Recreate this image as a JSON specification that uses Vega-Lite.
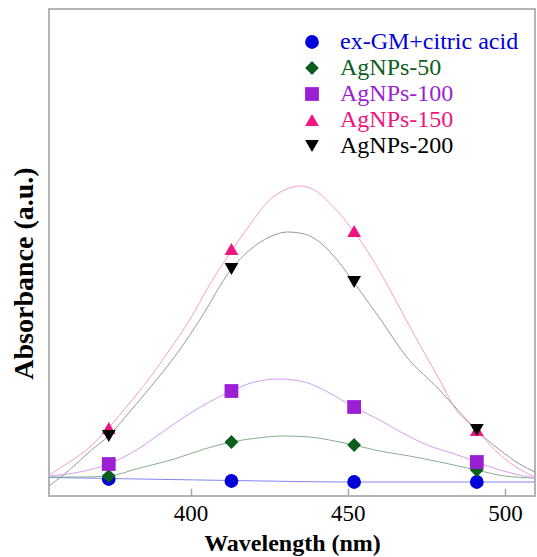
{
  "$schema": "https://vega.github.io/schema/vega-lite/v6.json",
  "autosize": "none",
  "width": 486,
  "height": 487,
  "padding": {"left": 49, "top": 9, "right": 2, "bottom": 61},
  "config": {
    "view": {"stroke": "#b4b4b4", "strokeWidth": 2},
    "font": "Liberation Serif"
  },
  "datasets": {
    "curves": [
      {"s": "ex-GM+citric acid", "wl": 355.0, "a": 0.185},
      {"s": "ex-GM+citric acid", "wl": 373.9, "a": 0.175},
      {"s": "ex-GM+citric acid", "wl": 413.0, "a": 0.155},
      {"s": "ex-GM+citric acid", "wl": 451.8, "a": 0.14},
      {"s": "ex-GM+citric acid", "wl": 490.9, "a": 0.14},
      {"s": "ex-GM+citric acid", "wl": 509.5, "a": 0.14},

      {"s": "AgNPs-50", "wl": 355.0, "a": 0.19},
      {"s": "AgNPs-50", "wl": 364.7, "a": 0.19},
      {"s": "AgNPs-50", "wl": 373.9, "a": 0.20},
      {"s": "AgNPs-50", "wl": 383.8, "a": 0.28},
      {"s": "AgNPs-50", "wl": 394.9, "a": 0.37},
      {"s": "AgNPs-50", "wl": 404.4, "a": 0.47},
      {"s": "AgNPs-50", "wl": 413.0, "a": 0.54},
      {"s": "AgNPs-50", "wl": 421.3, "a": 0.58},
      {"s": "AgNPs-50", "wl": 429.3, "a": 0.60},
      {"s": "AgNPs-50", "wl": 437.8, "a": 0.59},
      {"s": "AgNPs-50", "wl": 445.8, "a": 0.55},
      {"s": "AgNPs-50", "wl": 451.8, "a": 0.51},
      {"s": "AgNPs-50", "wl": 460.1, "a": 0.45},
      {"s": "AgNPs-50", "wl": 469.6, "a": 0.40},
      {"s": "AgNPs-50", "wl": 479.2, "a": 0.34},
      {"s": "AgNPs-50", "wl": 490.9, "a": 0.26},
      {"s": "AgNPs-50", "wl": 499.8, "a": 0.20},
      {"s": "AgNPs-50", "wl": 509.5, "a": 0.18},

      {"s": "AgNPs-100", "wl": 355.0, "a": 0.20},
      {"s": "AgNPs-100", "wl": 364.7, "a": 0.24},
      {"s": "AgNPs-100", "wl": 373.9, "a": 0.32},
      {"s": "AgNPs-100", "wl": 382.8, "a": 0.46},
      {"s": "AgNPs-100", "wl": 391.1, "a": 0.64},
      {"s": "AgNPs-100", "wl": 397.5, "a": 0.78},
      {"s": "AgNPs-100", "wl": 406.0, "a": 0.94},
      {"s": "AgNPs-100", "wl": 413.0, "a": 1.05},
      {"s": "AgNPs-100", "wl": 420.3, "a": 1.14},
      {"s": "AgNPs-100", "wl": 428.3, "a": 1.17},
      {"s": "AgNPs-100", "wl": 436.2, "a": 1.14},
      {"s": "AgNPs-100", "wl": 444.2, "a": 1.03},
      {"s": "AgNPs-100", "wl": 451.8, "a": 0.89},
      {"s": "AgNPs-100", "wl": 460.1, "a": 0.76},
      {"s": "AgNPs-100", "wl": 467.4, "a": 0.63},
      {"s": "AgNPs-100", "wl": 476.0, "a": 0.50},
      {"s": "AgNPs-100", "wl": 484.0, "a": 0.42},
      {"s": "AgNPs-100", "wl": 490.9, "a": 0.34},
      {"s": "AgNPs-100", "wl": 498.3, "a": 0.26},
      {"s": "AgNPs-100", "wl": 504.6, "a": 0.21},
      {"s": "AgNPs-100", "wl": 509.5, "a": 0.18},

      {"s": "AgNPs-150", "wl": 355.0, "a": 0.21},
      {"s": "AgNPs-150", "wl": 361.5, "a": 0.34},
      {"s": "AgNPs-150", "wl": 366.9, "a": 0.46},
      {"s": "AgNPs-150", "wl": 373.9, "a": 0.68},
      {"s": "AgNPs-150", "wl": 380.6, "a": 0.93},
      {"s": "AgNPs-150", "wl": 387.0, "a": 1.18},
      {"s": "AgNPs-150", "wl": 393.3, "a": 1.46},
      {"s": "AgNPs-150", "wl": 399.7, "a": 1.76},
      {"s": "AgNPs-150", "wl": 406.0, "a": 2.11},
      {"s": "AgNPs-150", "wl": 413.0, "a": 2.45},
      {"s": "AgNPs-150", "wl": 418.8, "a": 2.71},
      {"s": "AgNPs-150", "wl": 425.1, "a": 2.96},
      {"s": "AgNPs-150", "wl": 429.9, "a": 3.06},
      {"s": "AgNPs-150", "wl": 434.7, "a": 3.10},
      {"s": "AgNPs-150", "wl": 439.4, "a": 3.06},
      {"s": "AgNPs-150", "wl": 444.2, "a": 2.93},
      {"s": "AgNPs-150", "wl": 451.8, "a": 2.65},
      {"s": "AgNPs-150", "wl": 456.0, "a": 2.46},
      {"s": "AgNPs-150", "wl": 461.7, "a": 2.16},
      {"s": "AgNPs-150", "wl": 466.5, "a": 1.88},
      {"s": "AgNPs-150", "wl": 473.8, "a": 1.46},
      {"s": "AgNPs-150", "wl": 479.2, "a": 1.16},
      {"s": "AgNPs-150", "wl": 484.0, "a": 0.88},
      {"s": "AgNPs-150", "wl": 490.9, "a": 0.66},
      {"s": "AgNPs-150", "wl": 496.7, "a": 0.46},
      {"s": "AgNPs-150", "wl": 503.0, "a": 0.30},
      {"s": "AgNPs-150", "wl": 509.5, "a": 0.19},

      {"s": "AgNPs-200", "wl": 355.0, "a": 0.10},
      {"s": "AgNPs-200", "wl": 361.5, "a": 0.26},
      {"s": "AgNPs-200", "wl": 368.5, "a": 0.46},
      {"s": "AgNPs-200", "wl": 373.9, "a": 0.60},
      {"s": "AgNPs-200", "wl": 380.6, "a": 0.84},
      {"s": "AgNPs-200", "wl": 387.0, "a": 1.08},
      {"s": "AgNPs-200", "wl": 396.5, "a": 1.46},
      {"s": "AgNPs-200", "wl": 402.9, "a": 1.76},
      {"s": "AgNPs-200", "wl": 413.0, "a": 2.27},
      {"s": "AgNPs-200", "wl": 418.8, "a": 2.46},
      {"s": "AgNPs-200", "wl": 425.1, "a": 2.59},
      {"s": "AgNPs-200", "wl": 430.8, "a": 2.64},
      {"s": "AgNPs-200", "wl": 436.2, "a": 2.62},
      {"s": "AgNPs-200", "wl": 441.0, "a": 2.54},
      {"s": "AgNPs-200", "wl": 447.4, "a": 2.33},
      {"s": "AgNPs-200", "wl": 451.8, "a": 2.14},
      {"s": "AgNPs-200", "wl": 460.1, "a": 1.78},
      {"s": "AgNPs-200", "wl": 468.7, "a": 1.39},
      {"s": "AgNPs-200", "wl": 479.2, "a": 1.06},
      {"s": "AgNPs-200", "wl": 485.5, "a": 0.84},
      {"s": "AgNPs-200", "wl": 490.9, "a": 0.66},
      {"s": "AgNPs-200", "wl": 498.3, "a": 0.46},
      {"s": "AgNPs-200", "wl": 504.6, "a": 0.32},
      {"s": "AgNPs-200", "wl": 509.5, "a": 0.24}
    ],
    "pts": [
      {"s": "ex-GM+citric acid", "wl": 374, "a": 0.17},
      {"s": "ex-GM+citric acid", "wl": 413, "a": 0.15},
      {"s": "ex-GM+citric acid", "wl": 452, "a": 0.14},
      {"s": "ex-GM+citric acid", "wl": 491, "a": 0.14},
      {"s": "AgNPs-50", "wl": 374, "a": 0.20},
      {"s": "AgNPs-50", "wl": 413, "a": 0.54},
      {"s": "AgNPs-50", "wl": 452, "a": 0.51},
      {"s": "AgNPs-50", "wl": 491, "a": 0.26},
      {"s": "AgNPs-100", "wl": 374, "a": 0.32},
      {"s": "AgNPs-100", "wl": 413, "a": 1.05},
      {"s": "AgNPs-100", "wl": 452, "a": 0.89},
      {"s": "AgNPs-100", "wl": 491, "a": 0.34},
      {"s": "AgNPs-150", "wl": 374, "a": 0.68},
      {"s": "AgNPs-150", "wl": 413, "a": 2.47},
      {"s": "AgNPs-150", "wl": 452, "a": 2.65},
      {"s": "AgNPs-150", "wl": 491, "a": 0.66},
      {"s": "AgNPs-200", "wl": 374, "a": 0.60},
      {"s": "AgNPs-200", "wl": 413, "a": 2.27},
      {"s": "AgNPs-200", "wl": 452, "a": 2.14},
      {"s": "AgNPs-200", "wl": 491, "a": 0.66}
    ]
  },
  "encoding": {
    "x": {
      "field": "wl", "type": "quantitative",
      "scale": {"domain": [355, 509.5], "nice": false, "zero": false},
      "axis": {
        "title": "Wavelength (nm)", "values": [400, 450, 500],
        "grid": false, "domain": false,
        "tickSize": -8, "tickColor": "#a8a8a8", "tickWidth": 1.5,
        "labelFont": "Liberation Serif", "labelFontSize": 23, "labelColor": "#000000",
        "labelPadding": 14,
        "titleFont": "Liberation Serif", "titleFontSize": 24, "titleFontWeight": "bold",
        "titleColor": "#000000", "titlePadding": 6
      }
    },
    "y": {
      "field": "a", "type": "quantitative",
      "scale": {"domain": [0, 4.87], "nice": false, "zero": false},
      "axis": {
        "title": "Absorbance (a.u.)", "ticks": false, "labels": false, "domain": false, "grid": false,
        "titleFont": "Liberation Serif", "titleFontSize": 28, "titleFontWeight": "bold",
        "titleColor": "#000000", "titleX": -25, "titleY": 264, "titleAngle": -90,
        "titleAlign": "center", "titleBaseline": "middle"
      }
    }
  },
  "layer": [
    {
      "data": {"name": "curves"},
      "mark": {"type": "line", "interpolate": "monotone", "strokeWidth": 1, "clip": true},
      "encoding": {
        "stroke": {
          "field": "s", "type": "nominal", "legend": null,
          "scale": {
            "range": ["#d49df0", "#f7a0c8", "#9a9a9a", "#86ae8e", "#8484ee"]
          }
        }
      }
    },
    {
      "data": {"name": "pts"},
      "mark": {"type": "point", "filled": true, "opacity": 1, "size": 190, "clip": true},
      "encoding": {
        "shape": {
          "field": "s", "type": "nominal",
          "scale": {
            "domain": ["ex-GM+citric acid", "AgNPs-50", "AgNPs-100", "AgNPs-150", "AgNPs-200"],
            "range": ["circle", "diamond", "square", "triangle-up", "triangle-down"]
          }
        },
        "color": {
          "field": "s", "type": "nominal",
          "scale": {
            "domain": ["ex-GM+citric acid", "AgNPs-50", "AgNPs-100", "AgNPs-150", "AgNPs-200"],
            "range": ["#0000d8", "#0b5e1b", "#9b1fd4", "#f01480", "#000000"]
          },
          "legend": {
            "title": null, "orient": "none", "legendX": 246, "legendY": 16,
            "padding": 5, "rowPadding": 2, "symbolSize": 190, "symbolOpacity": 1,
            "labelFont": "Liberation Serif", "labelFontSize": 24, "labelOffset": 16,
            "labelLimit": 300,
            "labelColor": {"expr": "scale('color', datum.value)"}
          }
        }
      }
    }
  ]
}
